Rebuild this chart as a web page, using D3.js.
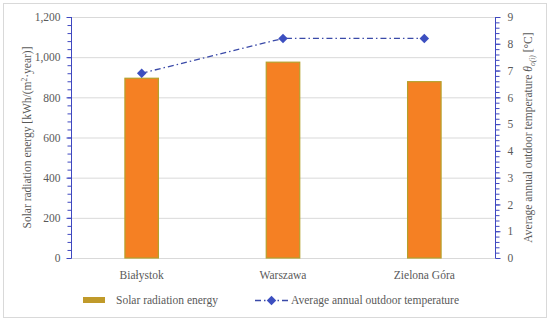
<!DOCTYPE html>
<html><head><meta charset="utf-8">
<script src="https://cdn.jsdelivr.net/npm/d3@7"></script>
<style>body{margin:0;background:#fff}svg{display:block}text{font-family:"Liberation Serif","DejaVu Serif",serif;fill:#595959}</style>
</head><body>
<script>
const categories = ["Białystok", "Warszawa", "Zielona Góra"];
const solarEnergy = [895, 975, 878];
const avgTemperature = [6.9, 8.2, 8.2];
const leftTicks = [0, 200, 400, 600, 800, 1000, 1200];
const rightTicks = [0, 1, 2, 3, 4, 5, 6, 7, 8, 9];

const W = 550, H = 322;
const FS = "11.5px";
const svg = d3.select("body").append("svg").attr("width", W).attr("height", H);
svg.append("rect").attr("x", 3.5).attr("y", 3.5).attr("width", 543).attr("height", 314)
  .attr("fill", "#fff").attr("stroke", "#d9d9d9");

const L = 71, R = 495, T = 17, B = 258;
const x = d3.scaleBand().domain(categories).range([L, R]).padding(0);
const yL = d3.scaleLinear().domain([0, 1200]).range([B, T]);
const yR = d3.scaleLinear().domain([0, 9]).range([B, T]);
const axisColor = "#3f48c0";

// gridlines
svg.append("g").selectAll("line").data(leftTicks.filter(d => d > 0)).join("line")
  .attr("x1", L).attr("x2", R).attr("y1", d => yL(d) + 0.5).attr("y2", d => yL(d) + 0.5)
  .attr("stroke", "#d9d9d9").attr("stroke-width", 1);
svg.append("line").attr("x1", L).attr("x2", R).attr("y1", B + 0.5).attr("y2", B + 0.5)
  .attr("stroke", "#d9d9d9");

// bars
const bw = x.bandwidth() * 0.237;
svg.append("g").selectAll("rect").data(categories).join("rect")
  .attr("x", (d) => x(d) + x.bandwidth() / 2 - bw / 2)
  .attr("y", (d, i) => yL(solarEnergy[i]))
  .attr("width", bw)
  .attr("height", (d, i) => B - yL(solarEnergy[i]))
  .attr("fill", "#f58023").attr("stroke", "#b5a02c").attr("stroke-width", 1.2);

// left axis
const gl = svg.append("g").attr("transform", `translate(${L + 0.5},0)`);
gl.call(d3.axisLeft(yL).tickValues(d3.range(0, 1201, 40)).tickSize(4).tickFormat(""));
gl.call(g => g.select(".domain").remove());
gl.append("line").attr("y1", T).attr("y2", B).attr("stroke", axisColor);
gl.selectAll(".tick line").attr("stroke", axisColor);
const gl2 = svg.append("g").attr("transform", `translate(${L + 0.5},0)`)
  .call(d3.axisLeft(yL).tickValues(leftTicks).tickSize(5).tickPadding(6).tickFormat(d3.format(",")));
gl2.select(".domain").remove();
gl2.selectAll(".tick line").attr("stroke", axisColor);
gl2.selectAll("text").style("font-size", FS).style("fill", "#595959");

// right axis
const gr = svg.append("g").attr("transform", `translate(${R + 0.5},0)`);
gr.call(d3.axisRight(yR).tickValues(d3.range(0, 46).map(d => d / 5)).tickSize(4).tickFormat(""));
gr.call(g => g.select(".domain").remove());
gr.append("line").attr("y1", T).attr("y2", B).attr("stroke", axisColor);
gr.selectAll(".tick line").attr("stroke", axisColor);
const gr2 = svg.append("g").attr("transform", `translate(${R + 0.5},0)`)
  .call(d3.axisRight(yR).tickValues(rightTicks).tickSize(5).tickPadding(7).tickFormat(d3.format("d")));
gr2.select(".domain").remove();
gr2.selectAll(".tick line").attr("stroke", axisColor);
gr2.selectAll("text").style("font-size", FS).style("fill", "#595959");

// category labels
svg.append("g").selectAll("text").data(categories).join("text")
  .attr("x", d => x(d) + x.bandwidth() / 2).attr("y", 279)
  .attr("text-anchor", "middle").style("font-size", FS).text(d => d);

// temperature line
const cx = d => x(d) + x.bandwidth() / 2;
const line = d3.line().x((d, i) => cx(categories[i])).y(d => yR(d));
svg.append("path").datum(avgTemperature).attr("d", line)
  .attr("fill", "none").attr("stroke", "#3a4aa8").attr("stroke-width", 1.3)
  .attr("stroke-dasharray", "6,3,1.5,3");
svg.append("g").selectAll("path").data(avgTemperature).join("path")
  .attr("transform", (d, i) => `translate(${cx(categories[i])},${yR(d)}) rotate(45)`)
  .attr("d", d3.symbol().type(d3.symbolSquare).size(45))
  .attr("fill", "#3c4fc0");

// axis titles
const lt = svg.append("text").attr("transform", `translate(31,${(T + B) / 2}) rotate(-90)`)
  .attr("text-anchor", "middle").style("font-size", FS);
lt.append("tspan").text("Solar radiation energy  [kWh/(m");
lt.append("tspan").attr("dy", -4).style("font-size", "7.5px").text("2");
lt.append("tspan").attr("dy", 4).text("·year)]");

const rt = svg.append("text").attr("transform", `translate(532,${(T + B) / 2}) rotate(-90)`)
  .attr("text-anchor", "middle").style("font-size", FS);
rt.append("tspan").text("Average annual outdoor temperature ");
rt.append("tspan").style("font-style", "italic").text("θ");
rt.append("tspan").attr("dy", 3).style("font-size", "7.5px").style("font-style", "italic").text("o(i)");
rt.append("tspan").attr("dy", -3).text(" [°C]");

// legend
const lg = svg.append("g");
lg.append("rect").attr("x", 83).attr("y", 297).attr("width", 22).attr("height", 6).attr("fill", "#c09a2a");
lg.append("text").attr("x", 116).attr("y", 304).style("font-size", FS).text("Solar radiation energy");
lg.append("line").attr("x1", 255).attr("x2", 288).attr("y1", 300.5).attr("y2", 300.5)
  .attr("stroke", "#3a4aa8").attr("stroke-width", 1.3).attr("stroke-dasharray", "6,3,1.5,3");
lg.append("path").attr("transform", "translate(271.5,300.5) rotate(45)")
  .attr("d", d3.symbol().type(d3.symbolSquare).size(45)).attr("fill", "#3c4fc0");
lg.append("text").attr("x", 291).attr("y", 304).style("font-size", FS).text("Average annual outdoor temperature");
</script>
</body></html>
